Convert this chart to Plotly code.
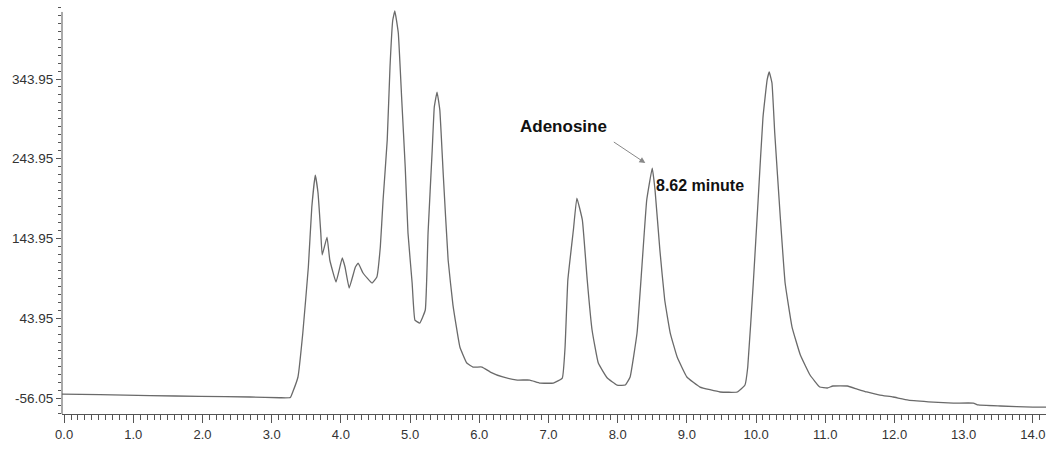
import plotly.graph_objects as go

# Retention time (minutes) and detector response
time_min = [
    -0.03, 0.52, 1.24, 1.97, 2.69, 3.12, 3.27, 3.31, 3.38, 3.45, 3.53, 3.58,
    3.63, 3.67, 3.71, 3.73, 3.80, 3.84, 3.93, 4.02, 4.06, 4.12, 4.21, 4.25,
    4.32, 4.45, 4.52, 4.57, 4.61, 4.67, 4.71, 4.75, 4.78, 4.83, 4.88, 4.93,
    4.97, 5.03, 5.07, 5.14, 5.22, 5.26, 5.32, 5.35, 5.39, 5.43, 5.48, 5.55,
    5.62, 5.72, 5.82, 5.91, 6.04, 6.16, 6.34, 6.55, 6.73, 6.88, 7.07, 7.20,
    7.24, 7.28, 7.36, 7.41, 7.49, 7.56, 7.63, 7.72, 7.85, 7.99, 8.11, 8.18,
    8.28, 8.35, 8.42, 8.50, 8.54, 8.61, 8.68, 8.76, 8.86, 9.00, 9.19, 9.48,
    9.73, 9.84, 9.88, 9.96, 10.03, 10.10, 10.16, 10.19, 10.23, 10.27, 10.35,
    10.42, 10.52, 10.64, 10.78, 10.92, 11.03, 11.11, 11.32, 11.46, 11.60,
    11.79, 11.98, 12.20, 12.56, 12.85, 13.14, 13.21, 13.53, 14.00, 14.19,
]
response = [
    -51.1, -51.7, -53.0, -54.0, -54.8, -55.7, -55.4, -47.3, -29.7, 25.4, 108.2, 183.4,
    223.5, 201.0, 150.8, 123.3, 145.8, 117.0, 89.4, 119.5, 108.2, 81.9, 108.2, 113.2,
    100.7, 88.1, 95.7, 133.3, 192.2, 267.5, 359.0, 417.9, 429.2, 401.6, 317.6, 233.6,
    150.8, 88.1, 41.7, 37.9, 54.3, 150.8, 254.9, 308.8, 327.6, 305.1, 223.5, 117.0,
    60.5, 7.9, -12.2, -17.2, -17.2, -23.5, -29.7, -33.5, -33.5, -37.3, -37.3, -31.0,
    7.9, 91.9, 154.6, 194.7, 167.1, 91.9, 29.2, -12.2, -31.0, -39.8, -39.8, -29.7,
    25.4, 108.2, 192.2, 232.3, 204.8, 129.5, 66.8, 25.4, -4.7, -29.7, -42.3, -48.5,
    -48.5, -39.8, -17.2, 88.1, 192.2, 295.9, 342.7, 352.7, 338.9, 276.2, 170.9,
    88.1, 32.9, -2.1, -27.2, -42.3, -43.5, -41.0, -41.0, -44.8, -48.5,
    -52.3, -54.8, -58.6, -61.1, -62.4, -62.4, -64.8, -66.1, -67.4, -67.4,
]

y_tick_values = [-56.05, 43.95, 143.95, 243.95, 343.95]
y_tick_labels = ["-56.05", "43.95", "143.95", "243.95", "343.95"]
x_tick_values = [0, 1, 2, 3, 4, 5, 6, 7, 8, 9, 10, 11, 12, 13, 14]
x_tick_labels = ["0.0", "1.0", "2.0", "3.0", "4.0", "5.0", "6.0", "7.0",
                 "8.0", "9.0", "10.0", "11.0", "12.0", "13.0", "14.0"]

peak_name = "Adenosine"
peak_label = "8.62 minute"
peak_time = 8.40
peak_level = 238.6

font_family = "Liberation Sans Narrow, Arial Narrow, Liberation Sans, Arial, sans-serif"
axis_color = "#555555"

fig = go.Figure()
fig.add_trace(go.Scatter(
    x=time_min, y=response, mode="lines",
    line=dict(color="#6a6a6a", width=1.3, shape="spline", smoothing=0.3),
    hoverinfo="skip", showlegend=False,
))

fig.update_layout(
    width=1046, height=463,
    margin=dict(l=62, r=0, t=0, b=49),
    paper_bgcolor="white", plot_bgcolor="white",
    font=dict(family=font_family, size=13, color="#333333"),
    xaxis=dict(
        range=[-0.03, 14.19],
        tickmode="array", tickvals=x_tick_values, ticktext=x_tick_labels,
        ticks="outside", ticklen=8, tickcolor=axis_color, tickwidth=1,
        minor=dict(dtick=0.1, tick0=0, ticks="outside", ticklen=5,
                   tickcolor=axis_color, tickwidth=1, showgrid=False),
        showline=True, linecolor=axis_color, linewidth=1,
        showgrid=False, zeroline=False,
        tickfont=dict(family=font_family, size=13, color="#333333"),
    ),
    yaxis=dict(
        range=[-76.1, 443.0],
        tickmode="array", tickvals=y_tick_values, ticktext=y_tick_labels,
        ticks="outside", ticklen=5, tickcolor=axis_color, tickwidth=1,
        minor=dict(dtick=10, tick0=43.95, ticks="outside", ticklen=3,
                   tickcolor=axis_color, tickwidth=1, showgrid=False),
        showline=False, showgrid=False, zeroline=False,
        tickfont=dict(family=font_family, size=13.5, color="#333333"),
    ),
)

# vertical axis line stops short of the top, as on the print-out
fig.add_shape(type="line", xref="paper", yref="y", x0=0, x1=0,
              y0=-76.1, y1=428, line=dict(color=axis_color, width=1))

fig.add_annotation(
    x=7.21, y=283.8, xref="x", yref="y", text="<b>" + peak_name + "</b>",
    showarrow=False, font=dict(family="Liberation Sans, Arial, sans-serif",
                               size=17, color="#111111"),
)
fig.add_annotation(
    x=peak_time, y=peak_level, xref="x", yref="y", text="",
    showarrow=True, ax=-33, ay=-22, arrowhead=2, arrowsize=1.2,
    arrowwidth=1, arrowcolor="#888888",
)
fig.add_annotation(
    x=9.19, y=211, xref="x", yref="y", text="<b>" + peak_label + "</b>",
    showarrow=False, font=dict(family=font_family, size=16, color="#111111"),
)

fig.write_html("out.html",
               config={"displayModeBar": False},
               post_script="document.body.style.margin='0';document.body.style.overflow='hidden';")
